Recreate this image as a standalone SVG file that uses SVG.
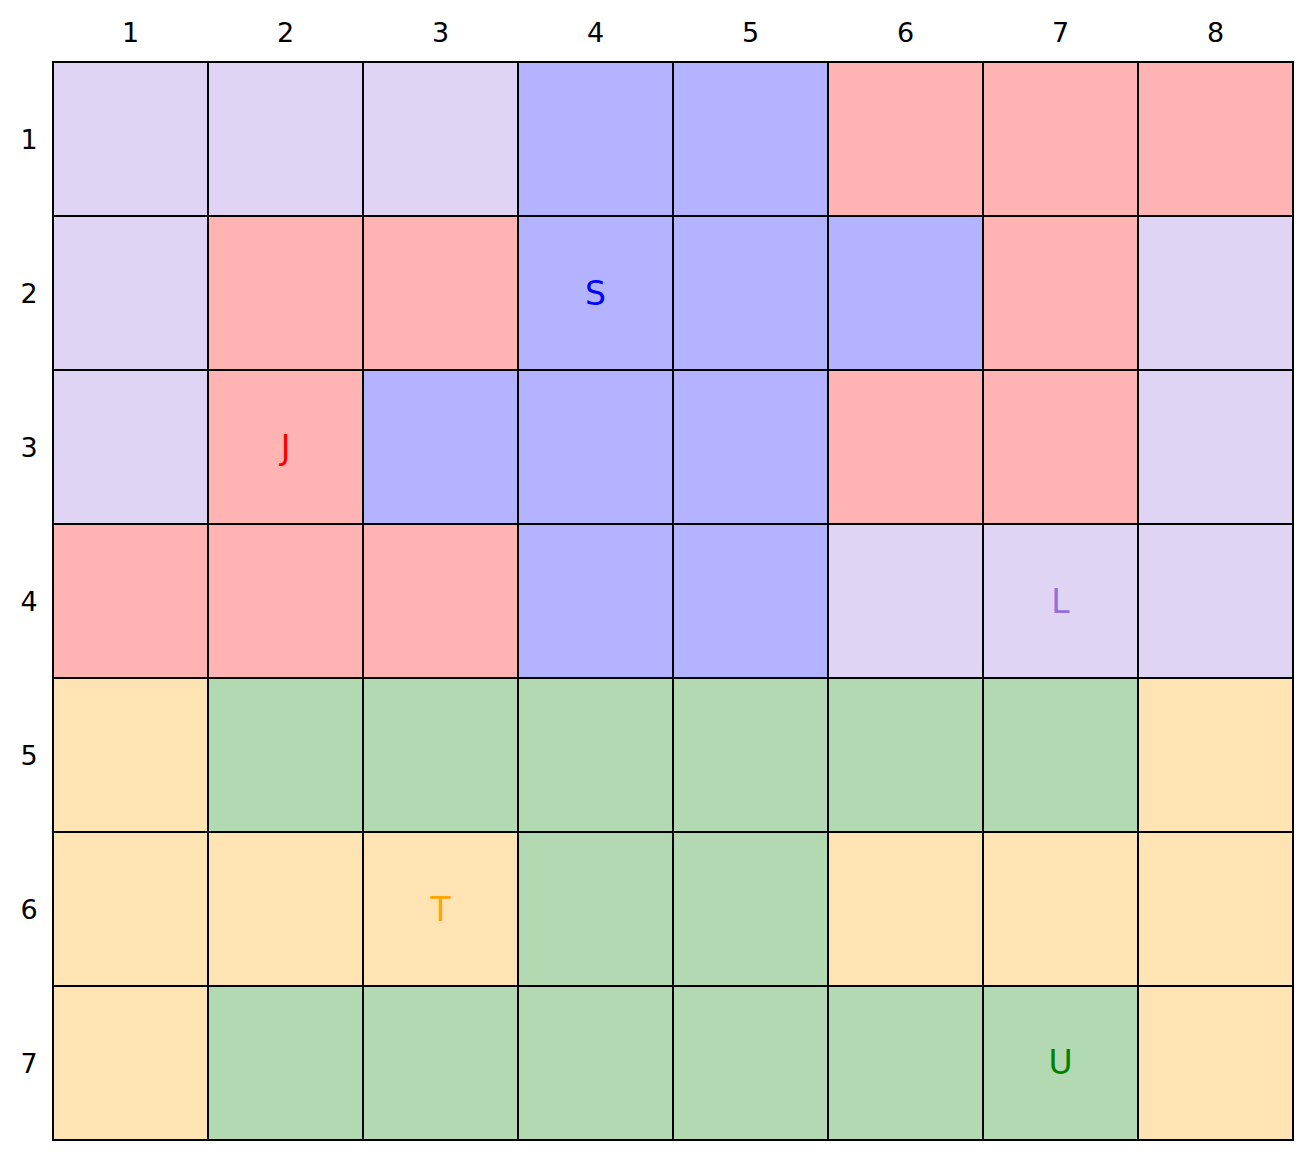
<svg xmlns="http://www.w3.org/2000/svg" width="1313" height="1161" viewBox="0 0 1313 1161">
<style>
rect{stroke:#000;stroke-width:2}
.p{fill:#DFD4F4}.r{fill:#FFB3B3}.b{fill:#B3B3FF}.o{fill:#FFE4B3}.g{fill:#B3D9B3}
text{font-family:"DejaVu Sans",sans-serif;text-anchor:middle}
.t{font-size:27px;fill:#000}
.l{font-size:33px}
</style>
<rect width="1313" height="1161" fill="#fff" style="stroke:none"/>
<g id="grid">
<!-- row 1 -->
<rect class="p" x="53" y="62" width="155" height="154"/>
<rect class="p" x="208" y="62" width="155" height="154"/>
<rect class="p" x="363" y="62" width="155" height="154"/>
<rect class="b" x="518" y="62" width="155" height="154"/>
<rect class="b" x="673" y="62" width="155" height="154"/>
<rect class="r" x="828" y="62" width="155" height="154"/>
<rect class="r" x="983" y="62" width="155" height="154"/>
<rect class="r" x="1138" y="62" width="155" height="154"/>
<!-- row 2 -->
<rect class="p" x="53" y="216" width="155" height="154"/>
<rect class="r" x="208" y="216" width="155" height="154"/>
<rect class="r" x="363" y="216" width="155" height="154"/>
<rect class="b" x="518" y="216" width="155" height="154"/>
<rect class="b" x="673" y="216" width="155" height="154"/>
<rect class="b" x="828" y="216" width="155" height="154"/>
<rect class="r" x="983" y="216" width="155" height="154"/>
<rect class="p" x="1138" y="216" width="155" height="154"/>
<!-- row 3 -->
<rect class="p" x="53" y="370" width="155" height="154"/>
<rect class="r" x="208" y="370" width="155" height="154"/>
<rect class="b" x="363" y="370" width="155" height="154"/>
<rect class="b" x="518" y="370" width="155" height="154"/>
<rect class="b" x="673" y="370" width="155" height="154"/>
<rect class="r" x="828" y="370" width="155" height="154"/>
<rect class="r" x="983" y="370" width="155" height="154"/>
<rect class="p" x="1138" y="370" width="155" height="154"/>
<!-- row 4 -->
<rect class="r" x="53" y="524" width="155" height="154"/>
<rect class="r" x="208" y="524" width="155" height="154"/>
<rect class="r" x="363" y="524" width="155" height="154"/>
<rect class="b" x="518" y="524" width="155" height="154"/>
<rect class="b" x="673" y="524" width="155" height="154"/>
<rect class="p" x="828" y="524" width="155" height="154"/>
<rect class="p" x="983" y="524" width="155" height="154"/>
<rect class="p" x="1138" y="524" width="155" height="154"/>
<!-- row 5 -->
<rect class="o" x="53" y="678" width="155" height="154"/>
<rect class="g" x="208" y="678" width="155" height="154"/>
<rect class="g" x="363" y="678" width="155" height="154"/>
<rect class="g" x="518" y="678" width="155" height="154"/>
<rect class="g" x="673" y="678" width="155" height="154"/>
<rect class="g" x="828" y="678" width="155" height="154"/>
<rect class="g" x="983" y="678" width="155" height="154"/>
<rect class="o" x="1138" y="678" width="155" height="154"/>
<!-- row 6 -->
<rect class="o" x="53" y="832" width="155" height="154"/>
<rect class="o" x="208" y="832" width="155" height="154"/>
<rect class="o" x="363" y="832" width="155" height="154"/>
<rect class="g" x="518" y="832" width="155" height="154"/>
<rect class="g" x="673" y="832" width="155" height="154"/>
<rect class="o" x="828" y="832" width="155" height="154"/>
<rect class="o" x="983" y="832" width="155" height="154"/>
<rect class="o" x="1138" y="832" width="155" height="154"/>
<!-- row 7 -->
<rect class="o" x="53" y="986" width="155" height="154"/>
<rect class="g" x="208" y="986" width="155" height="154"/>
<rect class="g" x="363" y="986" width="155" height="154"/>
<rect class="g" x="518" y="986" width="155" height="154"/>
<rect class="g" x="673" y="986" width="155" height="154"/>
<rect class="g" x="828" y="986" width="155" height="154"/>
<rect class="g" x="983" y="986" width="155" height="154"/>
<rect class="o" x="1138" y="986" width="155" height="154"/>
</g>
<g id="labels">
<text class="l" x="595.5" y="304.5" fill="#0000FF">S</text>
<text class="l" x="285.5" y="458.5" fill="#FF0000">J</text>
<text class="l" x="1060.5" y="612.5" fill="#9370DB">L</text>
<text class="l" x="440.5" y="920.5" fill="#FFA500">T</text>
<text class="l" x="1060.5" y="1074" fill="#008000">U</text>
</g>
<g id="col-ticks" class="t">
<text class="t" x="130.5" y="42">1</text>
<text class="t" x="285.5" y="42">2</text>
<text class="t" x="440.5" y="42">3</text>
<text class="t" x="595.5" y="42">4</text>
<text class="t" x="750.5" y="42">5</text>
<text class="t" x="905.5" y="42">6</text>
<text class="t" x="1060.5" y="42">7</text>
<text class="t" x="1215.5" y="42">8</text>
</g>
<g id="row-ticks">
<text class="t" x="29" y="148.5">1</text>
<text class="t" x="29" y="302.5">2</text>
<text class="t" x="29" y="456.5">3</text>
<text class="t" x="29" y="610.5">4</text>
<text class="t" x="29" y="764.5">5</text>
<text class="t" x="29" y="918.5">6</text>
<text class="t" x="29" y="1072.5">7</text>
</g>
</svg>
